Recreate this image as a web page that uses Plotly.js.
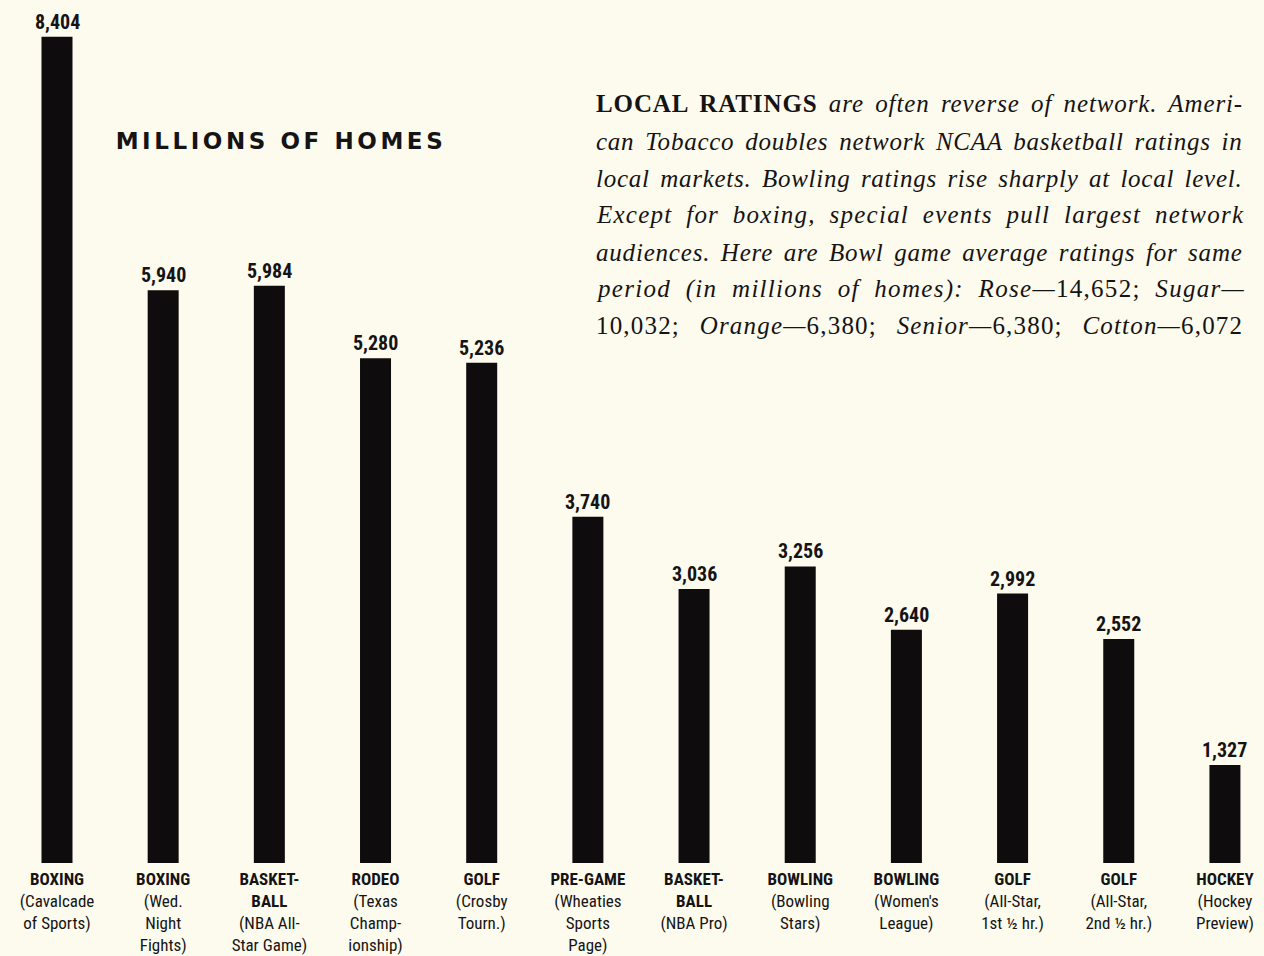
<!DOCTYPE html>
<html>
<head>
<meta charset="utf-8">
<script src="https://cdn.plot.ly/plotly-3.0.1.min.js"></script>
<style>
  html, body { margin: 0; padding: 0; background: #fcfbee; }
  #chart { width: 1264px; height: 956px; }
</style>
</head>
<body>
<div id="chart"></div>
<script>
// ---- data ----
const categoryMain = ["BOXING", "BOXING", "BASKET-<br>BALL", "RODEO", "GOLF", "PRE-GAME",
  "BASKET-<br>BALL", "BOWLING", "BOWLING", "GOLF", "GOLF", "HOCKEY"];
const categorySub = ["(Cavalcade<br>of Sports)", "(Wed.<br>Night<br>Fights)", "(NBA All-<br>Star Game)",
  "(Texas<br>Champ-<br>ionship)", "(Crosby<br>Tourn.)", "(Wheaties<br>Sports<br>Page)",
  "(NBA Pro)", "(Bowling<br>Stars)", "(Women's<br>League)", "(All-Star,<br>1st ½ hr.)",
  "(All-Star,<br>2nd ½ hr.)", "(Hockey<br>Preview)"];
const homes = [8404, 5940, 5984, 5280, 5236, 3740, 3036, 3256, 2640, 2992, 2552, 1327];

const titleText = "MILLIONS OF HOMES";
const noteLines = [
  "<b>LOCAL RATINGS</b> <i>are often reverse of network. Ameri-</i>",
  "<i>can Tobacco doubles network NCAA basketball ratings in</i>",
  "<i>local markets. Bowling ratings rise sharply at local level.</i>",
  "<i>Except for boxing, special events pull largest network</i>",
  "<i>audiences. Here are Bowl game average ratings for same</i>",
  "<i>period (in millions of homes): Rose—</i>14,652; <i>Sugar—</i>",
  "10,032; <i>Orange—</i>6,380; <i>Senior—</i>6,380; <i>Cotton—</i>6,072"
];

// ---- build ----
const W = 1264, H = 956, B = 93;
const plotH = H - B;
const pxToPaperY = py => (plotH - py) / plotH;
const pxToPaperX = px => px / W;

const labels = categoryMain.map((m, i) => "<b>" + m + "</b><br>" + categorySub[i]);
const narrow = "Liberation Sans Narrow, Roboto Condensed, DejaVu Sans Condensed, Arial Narrow, sans-serif";
const ink = "#161314";

const trace = {
  type: "bar",
  x: labels,
  y: homes,
  width: 0.292,
  marker: { color: "#0e0c0d", line: { width: 0 } },
  hoverinfo: "skip"
};

const annotations = homes.map((v, i) => ({
  x: labels[i], y: v, xref: "x", yref: "y",
  text: "<b>" + v.toLocaleString("en-US") + "</b>",
  showarrow: false, yanchor: "bottom", yshift: 1,
  font: { family: narrow, size: 20, color: ink }
}));

const titleIndex = annotations.length;
annotations.push({
  x: pxToPaperX(281), y: pxToPaperY(141), xref: "paper", yref: "paper",
  text: "<b>" + titleText + "</b>", showarrow: false,
  xanchor: "center", yanchor: "middle",
  font: { family: "DejaVu Sans", size: 23, color: ink }
});

const noteStart = annotations.length;
const lineYs = [104, 141, 178, 215, 252, 289, 326];
noteLines.forEach((t, i) => {
  annotations.push({
    x: pxToPaperX(594), y: pxToPaperY(lineYs[i]), xref: "paper", yref: "paper",
    text: t, showarrow: false, xanchor: "left", yanchor: "middle", align: "left",
    font: { family: "Liberation Serif, DejaVu Serif, serif", size: 25, color: ink }
  });
});

const layout = {
  width: W, height: H,
  margin: { l: 0, r: 0, t: 0, b: B, pad: 0 },
  paper_bgcolor: "#fcfbee",
  plot_bgcolor: "#fcfbee",
  showlegend: false,
  xaxis: {
    type: "category",
    range: [-0.5368, 11.368],
    showgrid: false, zeroline: false, showline: false,
    ticks: "", ticklen: 0,
    ticklabelstandoff: 4,
    tickfont: { family: narrow, size: 17, color: ink },
    tickangle: 0,
    automargin: false
  },
  yaxis: {
    range: [374, 8761],
    visible: false,
    showgrid: false, zeroline: false
  },
  annotations: annotations
};

Plotly.newPlot("chart", [trace], layout, { displayModeBar: false, staticPlot: true }).then(() => {
  const annos = document.querySelectorAll("#chart .annotation");
  // widen the title lettering (extended face in the original)
  const tEl = annos[titleIndex] && annos[titleIndex].querySelector(".annotation-text");
  if (tEl) {
    const target = 327;
    const w0 = tEl.getComputedTextLength();
    const n = titleText.length - 1;
    const ls = Math.max(0, (target - w0) / n);
    tEl.style.letterSpacing = ls.toFixed(2) + "px";
  }
  // justify the note lines to a common width (mix of letter and word spacing)
  const colWidth = 646;
  for (let i = 0; i < noteLines.length; i++) {
    const g = annos[noteStart + i];
    if (!g) continue;
    const el = g.querySelector(".annotation-text");
    if (!el) continue;
    const w0 = el.getComputedTextLength();
    const txt = el.textContent;
    const spaces = (txt.match(/ /g) || []).length;
    const chars = txt.length - 1;
    const extra = colWidth - w0;
    if (extra > 0 && spaces > 0) {
      const ls = 0.6 * extra / chars;
      const ws = (extra - ls * chars) / spaces;
      el.style.letterSpacing = ls.toFixed(2) + "px";
      el.style.wordSpacing = ws.toFixed(2) + "px";
    }
  }
});
</script>
</body>
</html>
